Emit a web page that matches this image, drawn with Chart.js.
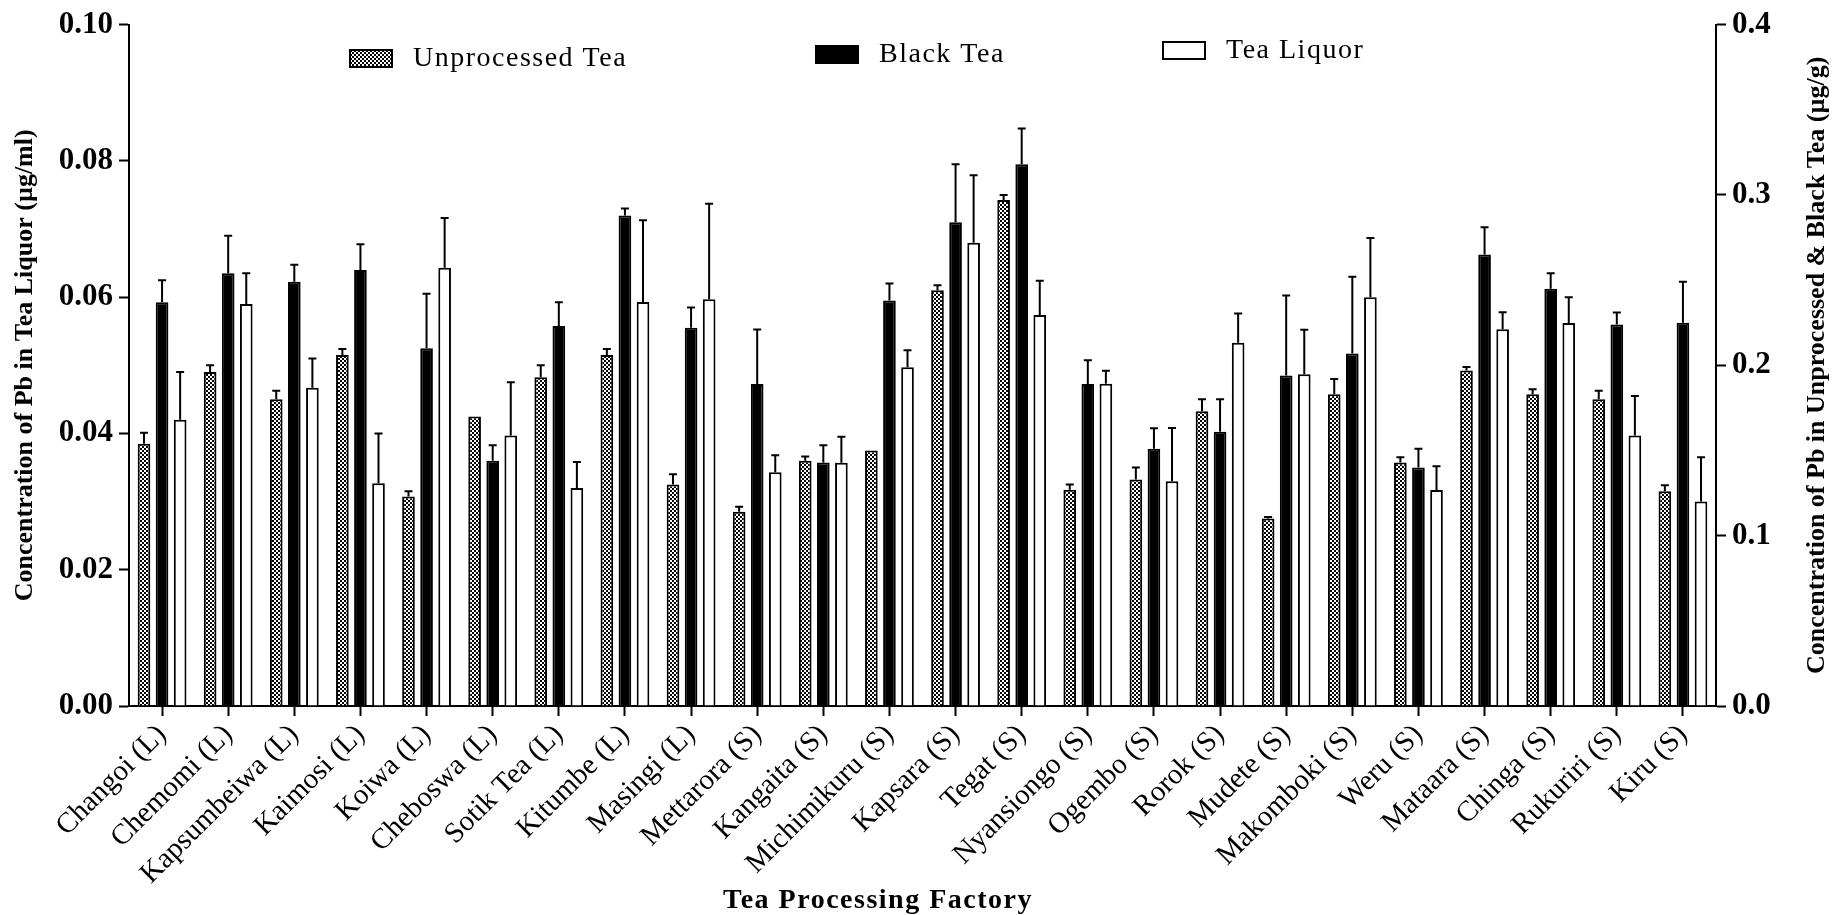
<!DOCTYPE html>
<html>
<head>
<meta charset="utf-8">
<script src="https://cdn.jsdelivr.net/npm/chart.js@4/dist/chart.umd.min.js"></script>
<style>
  body { margin: 0; background: #fff; }
</style>
</head>
<body>
<canvas id="teaChart" width="1841" height="915"></canvas>
<script>
const factories = ['Changoi (L)', 'Chemomi (L)', 'Kapsumbeiwa (L)', 'Kaimosi (L)', 'Koiwa (L)', 'Cheboswa (L)',
  'Sotik Tea (L)', 'Kitumbe (L)', 'Masingi (L)', 'Mettarora (S)', 'Kangaita (S)', 'Michimikuru (S)',
  'Kapsara (S)', 'Tegat (S)', 'Nyansiongo (S)', 'Ogembo (S)', 'Rorok (S)', 'Mudete (S)',
  'Makomboki (S)', 'Weru (S)', 'Mataara (S)', 'Chinga (S)', 'Rukuriri (S)', 'Kiru (S)'];

// µg/g (right axis)
const unprocessedTea = [0.154, 0.196, 0.180, 0.206, 0.123, 0.170, 0.193, 0.206, 0.130, 0.114, 0.144, 0.150,
  0.244, 0.297, 0.127, 0.133, 0.173, 0.110, 0.183, 0.143, 0.197, 0.183, 0.180, 0.126];
const unprocessedErr = [0.0064, 0.004, 0.005, 0.0036, 0.003, 0, 0.007, 0.0036, 0.006, 0.003, 0.0025, 0,
  0.003, 0.003, 0.003, 0.007, 0.007, 0.001, 0.009, 0.003, 0.002, 0.003, 0.005, 0.0036];

const blackTea = [0.237, 0.254, 0.249, 0.256, 0.210, 0.144, 0.223, 0.288, 0.222, 0.189, 0.143, 0.238,
  0.284, 0.318, 0.189, 0.151, 0.161, 0.194, 0.207, 0.140, 0.265, 0.245, 0.224, 0.225];
const blackErr = [0.013, 0.022, 0.010, 0.015, 0.032, 0.009, 0.014, 0.004, 0.012, 0.032, 0.010, 0.010,
  0.034, 0.021, 0.014, 0.012, 0.019, 0.047, 0.045, 0.011, 0.016, 0.009, 0.007, 0.024];

// µg/ml (left axis)
const teaLiquor = [0.042, 0.059, 0.0467, 0.0327, 0.0643, 0.0397, 0.032, 0.0593, 0.0597, 0.0343, 0.0357, 0.0497,
  0.068, 0.0574, 0.0473, 0.033, 0.0533, 0.0487, 0.060, 0.0317, 0.0553, 0.0562, 0.0397, 0.030];
const liquorErr = [0.007, 0.0045, 0.0043, 0.0073, 0.0073, 0.0078, 0.0038, 0.012, 0.014, 0.0025, 0.0038, 0.0025,
  0.0099, 0.005, 0.0019, 0.0078, 0.0043, 0.0065, 0.0087, 0.0035, 0.0025, 0.0038, 0.0058, 0.0065];

const serif = "'Liberation Serif', 'Times New Roman', serif";
const canvas = document.getElementById('teaChart');
const ctx = canvas.getContext('2d');

// checkered fill for unprocessed tea
function checkerPattern() {
  const c = document.createElement('canvas');
  c.width = 4; c.height = 4;
  const p = c.getContext('2d');
  p.fillStyle = '#fff';
  p.fillRect(0, 0, 4, 4);
  p.fillStyle = '#000';
  p.fillRect(0, 0, 2, 2);
  p.fillRect(2, 2, 2, 2);
  return ctx.createPattern(c, 'repeat');
}
const checker = checkerPattern();

// upper error bars, legend and the titles chart.js can't place the way the figure does
const extras = {
  id: 'extras',
  afterDatasetsDraw(chart) {
    const c = chart.ctx;
    c.save();
    c.strokeStyle = '#000';
    c.lineWidth = 2;
    chart.data.datasets.forEach((ds, i) => {
      const meta = chart.getDatasetMeta(i);
      const scale = chart.scales[meta.yAxisID];
      meta.data.forEach((bar, j) => {
        const err = ds.errors[j];
        if (!err) return;
        const yTop = scale.getPixelForValue(ds.data[j] + err);
        c.beginPath();
        c.moveTo(bar.x, bar.y);
        c.lineTo(bar.x, yTop);
        c.moveTo(bar.x - 4, yTop);
        c.lineTo(bar.x + 4, yTop);
        c.stroke();
      });
    });
    c.restore();
  },
  afterDraw(chart) {
    const c = chart.ctx;
    const area = chart.chartArea;
    c.save();
    c.fillStyle = '#000';

    // legend inside plot
    const spots = [[221, 58], [687, 54], [1034, 50]];
    chart.data.datasets.forEach((ds, i) => {
      const x = area.left + spots[i][0];
      const y = spots[i][1];
      c.fillStyle = ds.backgroundColor;
      c.fillRect(x, y - 8, 42, 17);
      c.strokeStyle = '#000';
      c.lineWidth = 2;
      c.strokeRect(x, y - 8, 42, 17);
      c.fillStyle = '#000';
      c.font = '28px ' + serif;
      c.letterSpacing = '1.5px';
      c.textAlign = 'left';
      c.textBaseline = 'middle';
      c.fillText(ds.label, x + 63, y + 1);
    });

    // x axis title
    c.font = 'bold 28px ' + serif;
    c.letterSpacing = '1.5px';
    c.textAlign = 'center';
    c.textBaseline = 'alphabetic';
    c.fillText('Tea Processing Factory', 878, 908);

    // right axis title, reading bottom to top
    c.letterSpacing = '0px';
    c.font = 'bold 26px ' + serif;
    c.translate(1817, (area.top + area.bottom) / 2);
    c.rotate(-Math.PI / 2);
    c.textBaseline = 'middle';
    c.fillText('Concentration of Pb in Unprocessed & Black Tea (µg/g)', 0, 0);
    c.restore();
  }
};

const axisGrid = { drawOnChartArea: false, drawTicks: true, tickLength: 10, tickWidth: 2, tickColor: '#000' };
const axisBorder = { color: '#000', width: 2 };

new Chart(ctx, {
  type: 'bar',
  data: {
    labels: factories,
    datasets: [
      { label: 'Unprocessed Tea', data: unprocessedTea, errors: unprocessedErr, yAxisID: 'yR',
        backgroundColor: checker, borderColor: '#000', borderWidth: 2 },
      { label: 'Black Tea', data: blackTea, errors: blackErr, yAxisID: 'yR',
        backgroundColor: '#000', borderColor: '#000', borderWidth: 2 },
      { label: 'Tea Liquor', data: teaLiquor, errors: liquorErr, yAxisID: 'yL',
        backgroundColor: '#fff', borderColor: '#000', borderWidth: 2 }
    ]
  },
  options: {
    responsive: false,
    animation: false,
    categoryPercentage: 0.82,
    barPercentage: 0.7,
    layout: { padding: { top: 22, left: 0, right: 0, bottom: 0 } },
    plugins: {
      legend: { display: false },
      tooltip: { enabled: false }
    },
    scales: {
      x: {
        grid: Object.assign({ offset: false }, axisGrid),
        border: axisBorder,
        ticks: { autoSkip: false, minRotation: 45, maxRotation: 45, color: '#000', padding: 2,
          font: { family: serif, size: 29 } },
        afterFit(s) { s.height = 209; }
      },
      yL: {
        position: 'left',
        min: 0,
        max: 0.10,
        grid: axisGrid,
        border: axisBorder,
        ticks: { stepSize: 0.02, color: '#000', padding: 6,
          font: { family: serif, size: 31, weight: 'bold' },
          callback: v => v.toFixed(2) },
        title: { display: true, text: 'Concentration of Pb in Tea Liquor (µg/ml)', color: '#000',
          padding: { top: 10, bottom: 0 }, font: { family: serif, size: 26, weight: 'bold' } },
        afterFit(s) { s.width = 129; }
      },
      yR: {
        position: 'right',
        min: 0,
        max: 0.4,
        grid: axisGrid,
        border: axisBorder,
        ticks: { stepSize: 0.1, color: '#000', padding: 6,
          font: { family: serif, size: 31, weight: 'bold' },
          callback: v => v.toFixed(1) },
        afterFit(s) { s.width = 125; }
      }
    }
  },
  plugins: [extras]
});
</script>
</body>
</html>
